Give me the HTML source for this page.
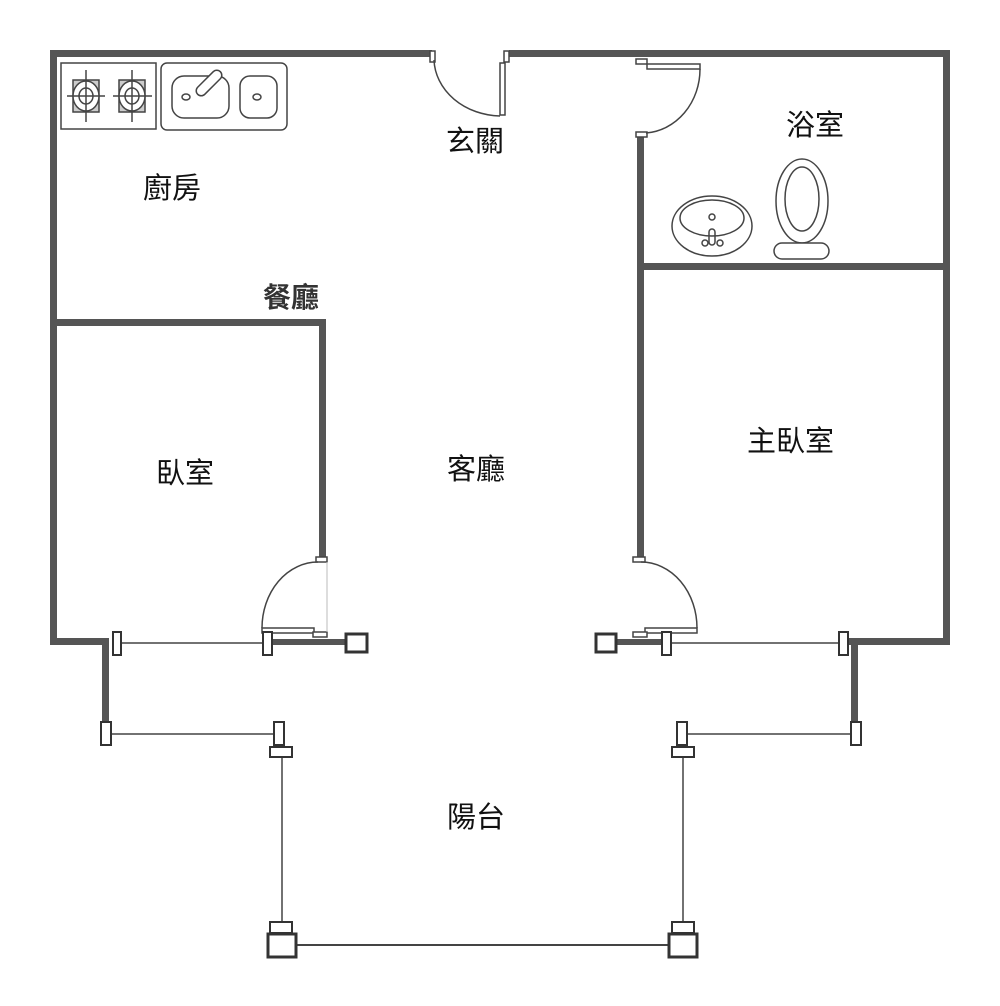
<!DOCTYPE html>
<html><head><meta charset="utf-8"><style>
html,body{margin:0;padding:0;background:#fff;}
svg{display:block;}
text{font-family:"Liberation Sans","Noto Sans CJK TC",sans-serif;fill:#111;font-size:29px;}
</style></head><body>
<svg width="1000" height="1006" viewBox="0 0 1000 1006" xmlns="http://www.w3.org/2000/svg">
<g fill="#555" stroke="none">
<rect x="50" y="50" width="382" height="7"/>
<rect x="509" y="50" width="440" height="7"/>
<rect x="50" y="50" width="7" height="595"/>
<rect x="943" y="50" width="7" height="595"/>
<rect x="50" y="638" width="58" height="7"/>
<rect x="102" y="638" width="7" height="86"/>
<rect x="849" y="638" width="101" height="7"/>
<rect x="851" y="638" width="7" height="86"/>
<rect x="50" y="319" width="276" height="7"/>
<rect x="319" y="319" width="7" height="239"/>
<rect x="637" y="137" width="7" height="422"/>
<rect x="640" y="263" width="310" height="7"/>
<rect x="272" y="639" width="74" height="6"/>
<rect x="617" y="639" width="45" height="6"/>
</g>
<g fill="#fff" stroke="#444" stroke-width="1.5">
<rect x="430" y="51" width="5" height="11"/>
<rect x="504" y="51" width="5" height="11"/>
<rect x="500" y="63" width="5" height="52"/>
<rect x="636" y="59" width="11" height="5"/>
<rect x="647" y="64" width="53" height="5"/>
<rect x="636" y="132" width="11" height="5"/>
<rect x="316" y="557" width="11" height="5"/>
<rect x="262" y="628" width="52" height="5"/>
<rect x="313" y="632" width="14" height="5"/>
<rect x="633" y="557" width="12" height="5"/>
<rect x="645" y="628" width="52" height="5"/>
<rect x="633" y="632" width="14" height="5"/>
</g>
<g fill="none" stroke="#444" stroke-width="1.5">
<path d="M434 60 A68 58 0 0 0 500 116"/>
<path d="M700 69 A58 64 0 0 1 646 133"/>
<path d="M318 562 A56 66 0 0 0 262 628"/>
<path d="M641 562 A56 66 0 0 1 697 628"/>
<line x1="327" y1="562" x2="327" y2="632" stroke="#bbb" stroke-width="1"/>
<line x1="121" y1="643" x2="262" y2="643"/>
<line x1="672" y1="643" x2="838" y2="643"/>
<line x1="112" y1="734" x2="273" y2="734"/>
<line x1="688" y1="734" x2="850" y2="734"/>
<line x1="282" y1="757" x2="282" y2="922"/>
<line x1="683" y1="757" x2="683" y2="922"/>
<line x1="297" y1="945" x2="668" y2="945" stroke-width="2"/>
</g>
<g fill="#fff" stroke="#333" stroke-width="2">
<rect x="113" y="632" width="8" height="23"/>
<rect x="263" y="632" width="9" height="23"/>
<rect x="346" y="634" width="21" height="18" stroke-width="3"/>
<rect x="596" y="634" width="20" height="18" stroke-width="3"/>
<rect x="662" y="632" width="9" height="23"/>
<rect x="839" y="632" width="9" height="23"/>
<rect x="101" y="722" width="10" height="23"/>
<rect x="274" y="722" width="10" height="23"/>
<rect x="270" y="747" width="22" height="10"/>
<rect x="677" y="722" width="10" height="23"/>
<rect x="672" y="747" width="22" height="10"/>
<rect x="851" y="722" width="10" height="23"/>
<rect x="270" y="922" width="22" height="11"/>
<rect x="268" y="934" width="28" height="23" stroke-width="3"/>
<rect x="672" y="922" width="22" height="11"/>
<rect x="669" y="934" width="28" height="23" stroke-width="3"/>
</g>
<g fill="none" stroke="#444" stroke-width="1.5">
<rect x="61" y="63" width="95" height="66"/>
<rect x="73" y="80" width="26" height="32" fill="#ccc"/>
<ellipse cx="86" cy="96" rx="13" ry="15" fill="#fff"/>
<ellipse cx="86" cy="96" rx="7" ry="8"/>
<line x1="86" y1="70" x2="86" y2="122"/><line x1="67" y1="96" x2="105" y2="96"/>
<rect x="119" y="80" width="26" height="32" fill="#ccc"/>
<ellipse cx="132" cy="96" rx="13" ry="15" fill="#fff"/>
<ellipse cx="132" cy="96" rx="7" ry="8"/>
<line x1="132" y1="70" x2="132" y2="122"/><line x1="113" y1="96" x2="152" y2="96"/>
<rect x="161" y="63" width="126" height="67" rx="6"/>
<rect x="172" y="76" width="57" height="42" rx="12"/>
<ellipse cx="186" cy="97" rx="4" ry="3"/>
<rect x="240" y="76" width="37" height="42" rx="10"/>
<ellipse cx="257" cy="97" rx="4" ry="3"/>
<rect x="204" y="67" width="10" height="32" rx="5" fill="#fff" transform="rotate(45 209 83)"/>
<ellipse cx="712" cy="226" rx="40" ry="30"/>
<ellipse cx="712" cy="218" rx="32" ry="18"/>
<circle cx="712" cy="217" r="3"/>
<rect x="709" y="229" width="6" height="16" rx="3"/>
<circle cx="705" cy="243" r="3"/><circle cx="720" cy="243" r="3"/>
<ellipse cx="802" cy="201" rx="26" ry="42"/>
<ellipse cx="802" cy="199" rx="17" ry="32"/>
<rect x="774" y="243" width="55" height="16" rx="8" fill="#fff"/>
</g>
<text x="446" y="151">玄關</text>
<text x="143" y="198">廚房</text>
<text x="263" y="307" style="font-weight:bold;fill:#333;font-size:28px">餐廳</text>
<text x="786" y="135">浴室</text>
<text x="156" y="483">臥室</text>
<text x="447" y="479">客廳</text>
<text x="747" y="451">主臥室</text>
<text x="447" y="827">陽台</text>
</svg>
</body></html>
